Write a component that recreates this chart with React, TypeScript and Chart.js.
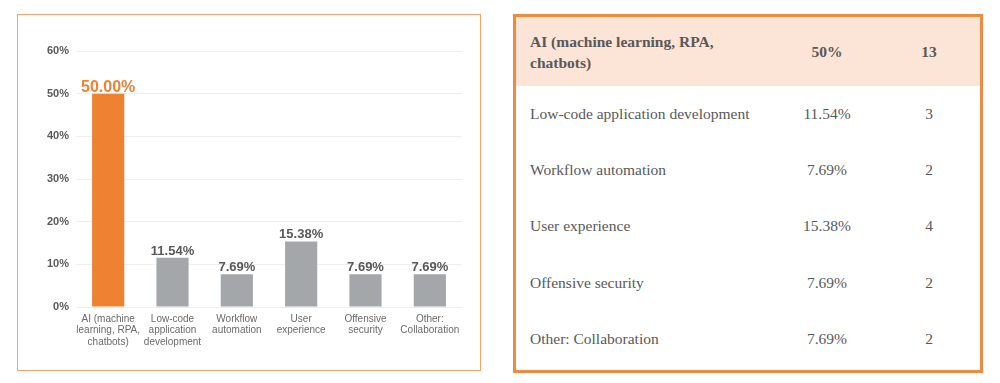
import React, { useEffect, useRef } from "react";
import { Chart, registerables } from "chart.js";

Chart.register(...registerables);

const categories = [
  "AI (machine learning, RPA, chatbots)",
  "Low-code application development",
  "Workflow automation",
  "User experience",
  "Offensive security",
  "Other: Collaboration",
];
const axisLabels = [
  ["AI (machine", "learning, RPA,", "chatbots)"],
  ["Low-code", "application", "development"],
  ["Workflow", "automation"],
  ["User", "experience"],
  ["Offensive", "security"],
  ["Other:", "Collaboration"],
];
const shares = [50.0, 11.54, 7.69, 15.38, 7.69, 7.69];
const tableShares = ["50%", "11.54%", "7.69%", "15.38%", "7.69%", "7.69%"];
const counts = [13, 3, 2, 4, 2, 2];
const yTicks = [0, 10, 20, 30, 40, 50, 60];

const ORANGE = "#EF8232";
const GRAY = "#A3A7AA";
const TEXT = "#595959";

const labelPlugin = {
  id: "barLabels",
  afterDatasetsDraw(chart: any) {
    const ctx = chart.ctx;
    const meta = chart.getDatasetMeta(0);
    ctx.save();
    ctx.textAlign = "center";
    ctx.textBaseline = "alphabetic";
    meta.data.forEach((bar: any, i: number) => {
      const v = shares[i];
      const hi = i === 0;
      ctx.font = hi
        ? "bold 16px 'Liberation Sans', Arial, sans-serif"
        : "bold 13px 'Liberation Sans', Arial, sans-serif";
      ctx.fillStyle = hi ? ORANGE : TEXT;
      ctx.fillText(v.toFixed(2) + "%", bar.x, bar.y - (hi ? 2 : 3));
    });
    ctx.restore();
  },
};

function BarChart() {
  const ref = useRef<HTMLCanvasElement>(null);
  useEffect(() => {
    if (!ref.current) return;
    const chart = new Chart(ref.current, {
      type: "bar",
      data: {
        labels: axisLabels as any,
        datasets: [
          {
            data: shares,
            backgroundColor: shares.map((_, i) => (i === 0 ? ORANGE : GRAY)),
            borderWidth: 0,
            categoryPercentage: 1,
            barPercentage: 0.5,
          },
        ],
      },
      options: {
        responsive: false,
        devicePixelRatio: 1,
        animation: false,
        layout: { padding: { top: 34, right: 17, left: 0, bottom: 0 } },
        plugins: { legend: { display: false }, tooltip: { enabled: false } },
        scales: {
          x: {
            grid: { display: false, drawTicks: false },
            border: { display: false },
            ticks: {
              color: "#6A6A6A",
              font: { family: "'Liberation Sans', Arial, sans-serif", size: 10, lineHeight: 1.17 },
              padding: 6,
              maxRotation: 0,
              autoSkip: false,
            },
            afterFit: (s: any) => {
              s.height = 62;
            },
          },
          y: {
            min: 0,
            max: 60,
            afterBuildTicks: (s: any) => {
              s.ticks = yTicks.map((v) => ({ value: v }));
            },
            grid: { color: "#EEEEEE", lineWidth: 1, drawTicks: false },
            border: { display: false },
            ticks: {
              color: TEXT,
              font: { family: "'Liberation Sans', Arial, sans-serif", size: 11, weight: "bold" },
              padding: 7,
              callback: (v: any) => v + "%",
            },
            afterFit: (s: any) => {
              s.width = 57;
            },
          },
        },
      },
      plugins: [labelPlugin],
    });
    return () => chart.destroy();
  }, []);
  return <canvas ref={ref} width={460} height={352} style={{ display: "block" }} />;
}

const serif = "'Liberation Serif', 'Times New Roman', serif";

function DataTable() {
  return (
    <div
      style={{
        position: "absolute",
        left: 513,
        top: 14,
        width: 464,
        height: 353,
        border: "3px solid #EF8A3F",
        fontFamily: serif,
        fontSize: 15.5,
        color: TEXT,
        background: "#fff",
      }}
    >
      {categories.map((c, i) => {
        const head = i === 0;
        return (
          <div
            key={c}
            style={{
              display: "flex",
              alignItems: "center",
              height: head ? 69 : 56.2,
              background: head ? "#FCE4D6" : "transparent",
              fontWeight: head ? "bold" : "normal",
              lineHeight: head ? "21px" : "normal",
            }}
          >
            <div style={{ width: 260, paddingLeft: 14, boxSizing: "border-box" }}>
              <div style={{ maxWidth: 234 }}>{c}</div>
            </div>
            <div style={{ width: 102, textAlign: "center" }}>{tableShares[i]}</div>
            <div style={{ width: 102, textAlign: "center" }}>{counts[i]}</div>
          </div>
        );
      })}
    </div>
  );
}

export default function App() {
  return (
    <div style={{ position: "fixed", left: 0, top: 0, width: 1000, height: 383, background: "#fff" }}>
      <div
        style={{
          position: "absolute",
          left: 17,
          top: 14,
          width: 462,
          height: 355,
          border: "1.5px solid #F5A26C",
        }}
      >
        <div style={{ position: "absolute", left: 0.5, top: 1.5 }}>
          <BarChart />
        </div>
      </div>
      <DataTable />
    </div>
  );
}
